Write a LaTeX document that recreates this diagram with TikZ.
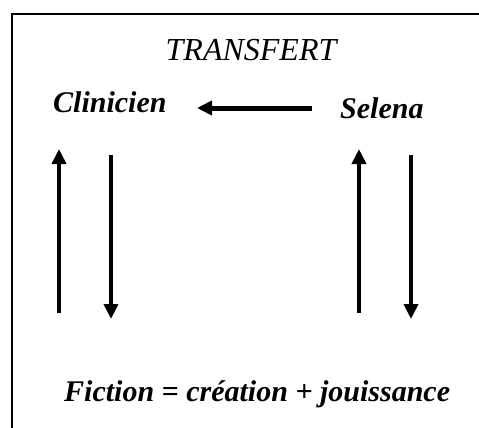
\documentclass[tikz,border=0pt]{standalone}
\usepackage{fontspec}
\setmainfont{Liberation Serif}
\usetikzlibrary{arrows.meta}

\begin{document}
\begin{tikzpicture}[x=1pt,y=-1pt,
    freccia/.style={line width=4pt,-{Triangle[length=15pt,width=14pt]}},
    testo/.style={inner sep=0pt,anchor=base west,font=\fontsize{30}{36}\selectfont\bfseries\itshape}]
    \useasboundingbox (0,0) rectangle (479,428);
    % Cornice
    \draw[line width=2pt] (12,428) -- (12,14) -- (479,14);
    % Titolo e nomi
    \node[inner sep=0pt,anchor=base,font=\fontsize{32}{38}\selectfont\itshape] (T) at (251,60) {TRANSFERT};
    \node[testo] (C) at (53,112) {Clinicien};
    \node[testo] (S) at (340,118) {Selena};
    \node[testo] (F) at (64,401) {Fiction = création + jouissance};
    % Estremi delle frecce
    \coordinate (H1) at (312,108);
    \coordinate (H2) at (197,108);
    \foreach \i/\x in {1/59,2/359} {
        \coordinate (U\i) at (\x,313);
        \coordinate (V\i) at (\x,149);
    }
    \foreach \i/\x in {1/111,2/411} {
        \coordinate (D\i) at (\x,155);
        \coordinate (E\i) at (\x,319);
    }
    % Frecce
    \draw[freccia,line width=5pt] (H1) -- (H2);
    \draw[freccia] (U1) -- (V1);
    \draw[freccia] (D1) -- (E1);
    \draw[freccia] (U2) -- (V2);
    \draw[freccia] (D2) -- (E2);
\end{tikzpicture}
\end{document}
